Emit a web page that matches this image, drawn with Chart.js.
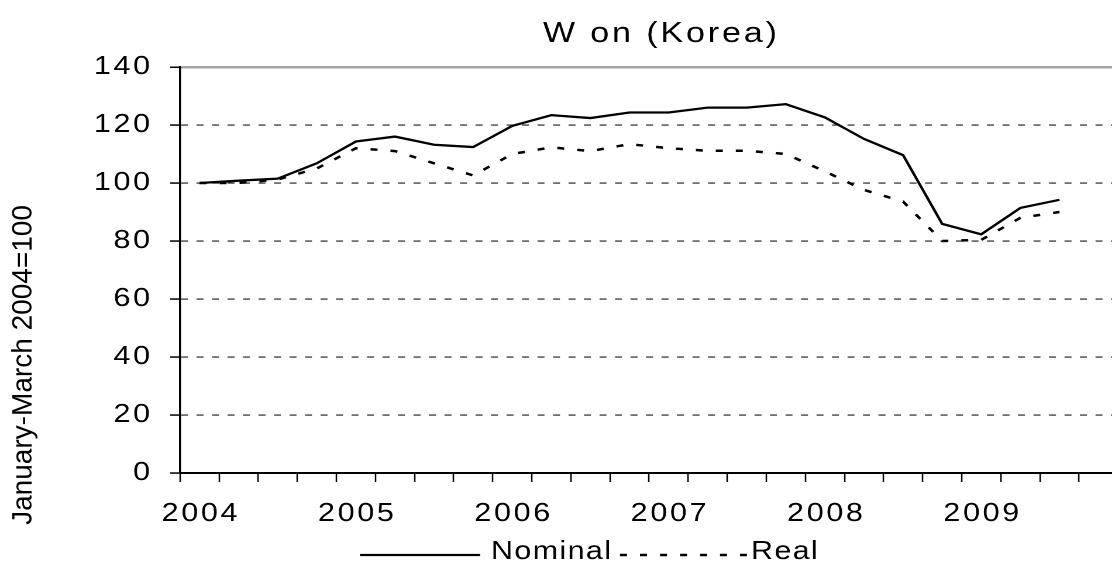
<!DOCTYPE html>
<html>
<head>
<meta charset="utf-8">
<title>Won (Korea)</title>
<script src="https://cdn.jsdelivr.net/npm/chart.js@4.4.1/dist/chart.umd.min.js"></script>
<style>
  html, body { margin: 0; padding: 0; background: #fff; overflow: hidden; }
  /* source lettering is wide: draw a bit narrow and widen the canvas */
  #wrap { width: 958px; height: 572px; transform: scaleX(1.17); transform-origin: 0 0; }
</style>
</head>
<body>
<div id="wrap"><canvas id="wonChart" width="958" height="572"></canvas></div>
<script>
// quarterly index, January-March 2004 = 100
const quarters = [
  '2004 Q1', '2004 Q2', '2004 Q3', '2004 Q4',
  '2005 Q1', '2005 Q2', '2005 Q3', '2005 Q4',
  '2006 Q1', '2006 Q2', '2006 Q3', '2006 Q4',
  '2007 Q1', '2007 Q2', '2007 Q3', '2007 Q4',
  '2008 Q1', '2008 Q2', '2008 Q3', '2008 Q4',
  '2009 Q1', '2009 Q2', '2009 Q3', '2009 Q4'
];
const nominal = [100, 100.8, 101.5, 106.8, 114.3, 116.0, 113.2, 112.4, 119.7, 123.4, 122.4, 124.3,
                 124.3, 126.0, 126.0, 127.2, 122.6, 115.2, 109.6, 85.9, 82.3, 91.4, 94.2, null];
const real = [100, 100, 101.2, 105.0, 112.0, 111.0, 106.8, 102.6, 110.0, 112.3, 111.0, 113.4,
              112.0, 111.1, 111.1, 110.0, 104.0, 97.6, 93.6, 80.0, 80.4, 88.0, 90.0, null];
const yTicks = [0, 20, 40, 60, 80, 100, 120, 140];

const chartTitle = 'W on (Korea)';
const yTitle = 'January-March 2004=100';
const FONT = "'Liberation Sans', Arial, sans-serif";
const STRETCH = 1.17;            // must match the css scaleX
const sx = px => px / STRETCH;   // screen x distance -> canvas x distance
const TICK_SPACING = 2.3;

// letter spacing on the axis numbers
const tickSpacing = {
    id: 'tickSpacing',
    beforeDraw(chart) { chart.ctx.letterSpacing = TICK_SPACING + 'px'; },
    afterDraw(chart) { chart.ctx.letterSpacing = '0px'; }
};

// title, rotated y title and the legend row under the axis
const chartText = {
    id: 'chartText',
    afterDraw(chart) {
        const ctx = chart.ctx;
        ctx.save();
        ctx.fillStyle = '#000';

        ctx.font = `29px ${FONT}`;
        ctx.letterSpacing = '2.5px';
        ctx.textAlign = 'left';
        ctx.textBaseline = 'middle';
        ctx.fillText(chartTitle, sx(543), 34);

        // y title is not widened in the source, so undo the stretch
        ctx.save();
        ctx.translate(sx(24), 365);
        ctx.scale(1 / STRETCH, 1);
        ctx.rotate(-Math.PI / 2);
        ctx.font = `28px ${FONT}`;
        ctx.letterSpacing = '0px';
        ctx.textAlign = 'center';
        ctx.fillText(yTitle, 0, 0);
        ctx.restore();

        // legend: sample line then label, for each series
        const items = [
            { ds: chart.data.datasets[0], x0: 360, x1: 480, tx: 491 },
            { ds: chart.data.datasets[1], x0: 620, x1: 747, tx: 751 }
        ];
        ctx.font = `26px ${FONT}`;
        ctx.letterSpacing = '1.2px';
        ctx.textAlign = 'left';
        for (const it of items) {
            ctx.save();
            ctx.strokeStyle = it.ds.borderColor;
            ctx.lineWidth = it.ds.borderWidth;
            ctx.setLineDash(it.ds.borderDash || []);
            ctx.beginPath();
            ctx.moveTo(sx(it.x0), 555);
            ctx.lineTo(sx(it.x1), 555);
            ctx.stroke();
            ctx.restore();
            ctx.fillText(it.ds.label, sx(it.tx), 552);
        }
        ctx.restore();
    }
};

const isTop = c => c.tick && c.tick.value === yTicks[yTicks.length - 1];

new Chart(document.getElementById('wonChart'), {
    type: 'line',
    data: {
        labels: quarters,
        datasets: [{
            label: 'Nominal',
            data: nominal,
            borderColor: '#000',
            borderWidth: 2.3,
            pointRadius: 0,
            tension: 0,
            fill: false
        }, {
            label: 'Real',
            data: real,
            borderColor: '#000',
            borderWidth: 2.5,
            borderDash: [sx(7), sx(13)],
            pointRadius: 0,
            tension: 0,
            fill: false
        }]
    },
    options: {
        responsive: false,
        animation: false,
        devicePixelRatio: 2,
        events: [],
        layout: { padding: { top: 67, right: 2.4, bottom: 0, left: 0 } },
        plugins: {
            legend: { display: false },
            title: { display: false },
            tooltip: { enabled: false }
        },
        scales: {
            x: {
                offset: true,
                grid: { offset: true, drawOnChartArea: false, tickLength: 9, tickColor: '#000', tickWidth: sx(1.5) },
                border: { color: '#000', width: 2 },
                ticks: {
                    autoSkip: false,
                    maxRotation: 0,
                    padding: 16,
                    labelOffset: TICK_SPACING / 2,
                    color: '#000',
                    font: { family: FONT, size: 26 },
                    callback: (v, i) => quarters[i].endsWith('Q1') ? quarters[i].slice(0, 4) : ''
                },
                afterFit(scale) { scale.height = 99; }
            },
            y: {
                min: 0,
                max: 140,
                afterBuildTicks(scale) { scale.ticks = yTicks.map(v => ({ value: v })); },
                grid: {
                    color: c => isTop(c) ? '#a6a6a6' : '#1a1a1a',
                    lineWidth: c => isTop(c) ? 2.5 : 1.1,
                    tickLength: sx(10),
                    tickColor: '#000',
                    tickWidth: 1.5
                },
                border: { color: '#000', width: sx(2), dash: c => isTop(c) ? [] : [sx(7), sx(8.5)] },
                ticks: {
                    padding: 14.8,
                    color: '#000',
                    font: { family: FONT, size: 26 }
                },
                afterFit(scale) { scale.width = sx(180); }
            }
        }
    },
    plugins: [tickSpacing, chartText]
});
</script>
</body>
</html>
